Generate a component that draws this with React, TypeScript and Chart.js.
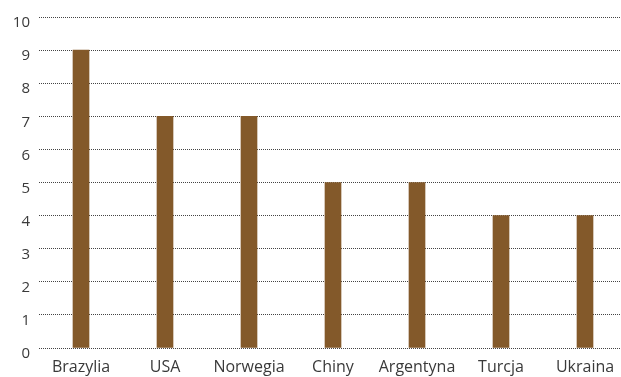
import React, { useEffect, useRef } from "react";
import { Chart, registerables } from "chart.js";

Chart.register(...registerables);

const categories = ["Brazylia", "USA", "Norwegia", "Chiny", "Argentyna", "Turcja", "Ukraina"];
const values = [9, 7, 7, 5, 5, 4, 4];
const yTicks = [0, 1, 2, 3, 4, 5, 6, 7, 8, 9, 10];

const fontFamily = "'Open Sans', 'Noto Sans', sans-serif";

export default function App() {
  const canvasRef = useRef<HTMLCanvasElement | null>(null);

  useEffect(() => {
    document.body.style.margin = "0";
    document.body.style.overflow = "hidden";
    const canvas = canvasRef.current;
    if (!canvas) return;
    const chart = new Chart(canvas, {
      type: "bar",
      data: {
        labels: categories,
        datasets: [
          {
            data: values,
            backgroundColor: "#83592a",
            barThickness: 16,
          },
        ],
      },
      options: {
        animation: false,
        responsive: false,
        maintainAspectRatio: false,
        layout: { padding: { top: 17, right: 0, bottom: 0, left: 0 } },
        plugins: { legend: { display: false }, tooltip: { enabled: false } },
        scales: {
          x: {
            grid: { display: false },
            border: { display: false },
            afterFit: (axis: any) => {
              axis.height = 29;
            },
            ticks: {
              color: "#3a3a3a",
              font: { family: fontFamily, size: 16 },
              padding: 2,
              maxRotation: 0,
              autoSkip: false,
            },
          },
          y: {
            min: 0,
            max: 10,
            afterBuildTicks: (axis: any) => {
              axis.ticks = yTicks.map((v) => ({ value: v }));
            },
            afterFit: (axis: any) => {
              axis.width = 39;
              axis.paddingTop = 0;
            },
            grid: {
              color: "#444",
              lineWidth: 1,
              drawTicks: false,
            },
            border: { display: false, dash: [1, 1] },
            ticks: {
              color: "#3a3a3a",
              font: { family: fontFamily, size: 15 },
              padding: 9,
              labelOffset: 6,
            },
          },
        },
      },
    });
    return () => chart.destroy();
  }, []);

  return (
    <div style={{ width: 621, height: 377, overflow: "hidden" }}>
      <canvas ref={canvasRef} width={627} height={377} style={{ display: "block" }} />
    </div>
  );
}
